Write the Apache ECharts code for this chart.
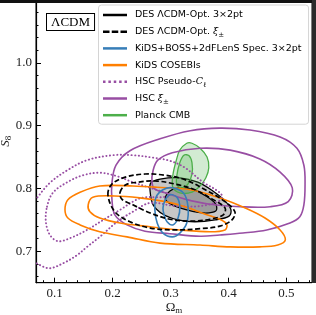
<!DOCTYPE html>
<html><head><meta charset="utf-8">
<script src="https://cdn.jsdelivr.net/npm/echarts@6/dist/echarts.min.js"></script>
<style>html,body{margin:0;padding:0;background:#fff}#c{width:316px;height:315px}</style>
</head><body><div id="c"></div>
<script>
// ---- tick values ----
const xMajorTicks = [0.1, 0.2, 0.3, 0.4, 0.5];
const xMinorTicks = [0.08, 0.12, 0.14, 0.16, 0.18, 0.22, 0.24, 0.26, 0.28, 0.32, 0.34, 0.36, 0.38, 0.42, 0.44, 0.46, 0.48, 0.52, 0.54];
const yMajorTicks = [0.7, 0.8, 0.9, 1.0];
const yMinorTicks = [0.66, 0.68, 0.72, 0.74, 0.76, 0.78, 0.82, 0.84, 0.86, 0.88, 0.92, 0.94, 0.96, 0.98, 1.02, 1.04, 1.06, 1.08];

// ---- legend names ----
const names = ['DES ΛCDM-Opt. 3×2pt', 'DES ΛCDM-Opt. ξ±', 'KiDS+BOSS+2dFLenS Spec. 3×2pt', 'KiDS COSEBIs', 'HSC Pseudo-Cℓ', 'HSC ξ±', 'Planck CMB'];

// ---- contours (Ωm, S8) ----
const hscClOuter = [[0.049,0.734],[0.054,0.766],[0.068,0.783],[0.092,0.809],[0.122,0.829],[0.156,0.845],[0.201,0.853],[0.235,0.853],[0.270,0.849],[0.299,0.844],[0.325,0.833],[0.356,0.810],[0.378,0.798],[0.389,0.788],[0.382,0.779],[0.351,0.772],[0.308,0.772],[0.265,0.777],[0.235,0.763],[0.208,0.747],[0.178,0.723],[0.156,0.707],[0.139,0.694],[0.115,0.681],[0.092,0.673],[0.075,0.678],[0.058,0.689],[0.049,0.710]];
const hscClInner = [[0.087,0.771],[0.097,0.793],[0.122,0.810],[0.149,0.821],[0.178,0.825],[0.206,0.820],[0.235,0.810],[0.265,0.801],[0.291,0.793],[0.299,0.788],[0.282,0.786],[0.256,0.786],[0.241,0.782],[0.213,0.766],[0.184,0.750],[0.156,0.734],[0.127,0.721],[0.106,0.716],[0.092,0.726],[0.085,0.747]];
const hscXiOuter = [[0.199,0.782],[0.199,0.809],[0.206,0.837],[0.230,0.860],[0.282,0.879],[0.334,0.892],[0.385,0.896],[0.437,0.893],[0.489,0.882],[0.518,0.864],[0.530,0.837],[0.532,0.806],[0.530,0.774],[0.523,0.755],[0.506,0.745],[0.466,0.734],[0.425,0.729],[0.385,0.726],[0.351,0.724],[0.299,0.728],[0.256,0.732],[0.225,0.742],[0.204,0.758]];
const hscXiInner = [[0.268,0.809],[0.270,0.829],[0.278,0.845],[0.303,0.857],[0.351,0.864],[0.403,0.861],[0.454,0.847],[0.489,0.826],[0.510,0.801],[0.503,0.779],[0.472,0.771],[0.420,0.771],[0.368,0.775],[0.325,0.783],[0.291,0.793],[0.273,0.799]];
const kidsCosebisOuter = [[0.118,0.766],[0.123,0.782],[0.144,0.794],[0.178,0.804],[0.235,0.804],[0.277,0.802],[0.334,0.798],[0.385,0.785],[0.429,0.769],[0.463,0.753],[0.489,0.734],[0.498,0.718],[0.485,0.710],[0.454,0.707],[0.403,0.707],[0.351,0.710],[0.282,0.713],[0.225,0.723],[0.178,0.731],[0.144,0.742],[0.123,0.753]];
const kidsCosebisInner = [[0.158,0.774],[0.166,0.786],[0.204,0.788],[0.247,0.785],[0.291,0.779],[0.325,0.771],[0.360,0.759],[0.385,0.751],[0.397,0.743],[0.394,0.734],[0.368,0.731],[0.316,0.734],[0.265,0.739],[0.213,0.745],[0.178,0.753],[0.161,0.763]];
const kidsBossOuter = [[0.273,0.766],[0.275,0.786],[0.287,0.798],[0.304,0.801],[0.322,0.793],[0.330,0.772],[0.328,0.745],[0.316,0.729],[0.303,0.723],[0.287,0.729],[0.277,0.745]];
const kidsBossInner = [[0.287,0.769],[0.291,0.782],[0.299,0.790],[0.311,0.786],[0.316,0.771],[0.313,0.753],[0.304,0.742],[0.294,0.747],[0.289,0.758]];
const desXiOuter = [[0.192,0.790],[0.199,0.807],[0.222,0.818],[0.256,0.823],[0.291,0.821],[0.325,0.814],[0.360,0.798],[0.394,0.779],[0.411,0.763],[0.406,0.750],[0.385,0.740],[0.351,0.736],[0.308,0.734],[0.265,0.737],[0.230,0.747],[0.204,0.763]];
const desXiInner = [[0.213,0.794],[0.223,0.806],[0.244,0.810],[0.273,0.812],[0.308,0.807],[0.342,0.798],[0.372,0.783],[0.394,0.769],[0.391,0.758],[0.368,0.751],[0.334,0.748],[0.299,0.751],[0.265,0.761],[0.235,0.774],[0.216,0.783]];
const des3x2Outer = [[0.265,0.794],[0.266,0.809],[0.282,0.815],[0.316,0.817],[0.347,0.810],[0.373,0.796],[0.392,0.782],[0.404,0.767],[0.401,0.756],[0.377,0.750],[0.342,0.747],[0.313,0.750],[0.287,0.759],[0.270,0.774]];
const des3x2Inner = [[0.291,0.783],[0.299,0.796],[0.313,0.801],[0.337,0.799],[0.361,0.788],[0.378,0.775],[0.378,0.764],[0.356,0.761],[0.328,0.766],[0.303,0.774]];
const planckOuter = [[0.328,0.872],[0.316,0.861],[0.310,0.845],[0.304,0.821],[0.304,0.802],[0.316,0.793],[0.337,0.794],[0.351,0.804],[0.361,0.817],[0.366,0.833],[0.363,0.850],[0.351,0.864],[0.337,0.872]];
const planckInner = [[0.323,0.853],[0.316,0.841],[0.311,0.821],[0.311,0.806],[0.320,0.801],[0.330,0.807],[0.337,0.823],[0.337,0.841],[0.332,0.852]];

const C = {black:'#000000', blue:'#377eb8', orange:'#ff7f00', purple:'#984ea3', green:'#4daf4a'};
const DASH = [5, 2.6], DOT = [0.2, 3.4];
const NOFILL = 'rgba(0,0,0,0)';

function contour(name, pts, o) {
  return {
    type: 'custom', name: name, coordinateSystem: 'cartesian2d', clip: true,
    data: pts, encode: {x: 0, y: 1}, z: o.z || 2, silent: true,
    itemStyle: {color: o.color},
    renderItem: function (params, api) {
      if (params.dataIndex !== 0) return;
      const p = pts.map(function (d) { return api.coord(d); });
      return {
        type: 'polygon',
        shape: {points: p, smooth: 0.35},
        style: {fill: o.fill || NOFILL, stroke: o.color, lineWidth: o.lw || 1.5,
                lineDash: o.dash || null, lineCap: o.cap || 'butt', lineJoin: 'round'}
      };
    }
  };
}

const series = [
  contour(names[0], des3x2Outer, {color: C.black, fill: 'rgba(0,0,0,0.22)', lw: 1.3, z: 1}),
  contour(names[0], des3x2Inner, {color: C.black, fill: 'rgba(0,0,0,0.22)', lw: 1.3, z: 1}),
  contour(names[6], planckOuter, {color: C.green, fill: 'rgba(77,175,74,0.25)', lw: 1.3, z: 1}),
  contour(names[6], planckInner, {color: C.green, fill: 'rgba(77,175,74,0.25)', lw: 1.3, z: 1}),
  contour(names[4], hscClOuter, {color: C.purple, lw: 1.9, dash: DOT, cap: 'round'}),
  contour(names[4], hscClInner, {color: C.purple, lw: 1.9, dash: DOT, cap: 'round'}),
  contour(names[5], hscXiOuter, {color: C.purple, lw: 1.6}),
  contour(names[5], hscXiInner, {color: C.purple, lw: 1.6}),
  contour(names[3], kidsCosebisOuter, {color: C.orange, lw: 1.6}),
  contour(names[3], kidsCosebisInner, {color: C.orange, lw: 1.6}),
  contour(names[2], kidsBossOuter, {color: C.blue, lw: 1.6}),
  contour(names[2], kidsBossInner, {color: C.blue, lw: 1.6}),
  contour(names[1], desXiOuter, {color: C.black, lw: 1.7, dash: DASH, z: 3}),
  contour(names[1], desXiInner, {color: C.black, lw: 1.7, dash: DASH, z: 3})
];

const SOLID = 'path://M0,0H24V2.5H0Z';
const DASHED = 'path://M0,0H6.5V2.5H0Z M8.75,0H15.25V2.5H8.75Z M17.5,0H24V2.5H17.5Z';
const DOTTED = 'path://M0,0H2.5V2.5H0Z M5.375,0H7.875V2.5H5.375Z M10.75,0H13.25V2.5H10.75Z M16.125,0H18.625V2.5H16.125Z M21.5,0H24V2.5H21.5Z';
const legendIcons = [SOLID, DASHED, SOLID, SOLID, DOTTED, SOLID, SOLID];
const legendColors = [C.black, C.black, C.blue, C.orange, C.purple, C.purple, C.green];
const legendLabels = {};
legendLabels[names[0]] = '{n|DES ΛCDM-Opt. 3×2pt}';
legendLabels[names[1]] = '{n|DES ΛCDM-Opt. }{it|ξ}{sb|±}';
legendLabels[names[2]] = '{n|KiDS+BOSS+2dFLenS Spec. 3×2pt}';
legendLabels[names[3]] = '{n|KiDS COSEBIs}';
legendLabels[names[4]] = '{n|HSC Pseudo-}{it|C}{sb|ℓ}';
legendLabels[names[5]] = '{n|HSC }{it|ξ}{sb|±}';
legendLabels[names[6]] = '{n|Planck CMB}';

const serif = '"Liberation Serif", "DejaVu Serif", serif';
const sans = '"DejaVu Sans", sans-serif';

const option = {
  animation: false,
  grid: {left: 36, right: 4, top: 0, bottom: 32.3, show: true, borderColor: '#000', borderWidth: 1, backgroundColor: 'transparent', containLabel: false, outerBoundsMode: 'none'},
  xAxis: [{
    type: 'value', min: 0.068, max: 0.544, position: 'bottom',
    axisLine: {lineStyle: {color: '#000', width: 1.2}},
    axisTick: {inside: true, length: 5, customValues: xMajorTicks, lineStyle: {color: '#000'}},
    axisLabel: {customValues: xMajorTicks, formatter: function (v) { return v.toFixed(1); }, fontFamily: serif, fontSize: 13, color: '#222', margin: 4},
    splitLine: {show: false},
    name: '{o|Ω}{s|m}', nameLocation: 'middle', nameGap: 17, nameMoveOverlap: false,
    nameTextStyle: {rich: {o: {fontFamily: serif, fontSize: 13, color: '#222'}, s: {fontFamily: serif, fontSize: 9, color: '#222', verticalAlign: 'bottom', padding: [6, 0, 0, 0]}}}
  }, {
    type: 'value', min: 0.068, max: 0.544, position: 'bottom',
    axisLine: {show: false},
    axisTick: {inside: true, length: 2.5, customValues: xMinorTicks, lineStyle: {color: '#000'}},
    axisLabel: {show: false}, splitLine: {show: false}
  }],
  yAxis: [{
    type: 'value', min: 0.65, max: 1.1, position: 'left',
    axisLine: {lineStyle: {color: '#000', width: 1.2}},
    axisTick: {inside: true, length: 5, customValues: yMajorTicks, lineStyle: {color: '#000'}},
    axisLabel: {customValues: yMajorTicks, formatter: function (v) { return v.toFixed(1); }, fontFamily: serif, fontSize: 13, color: '#222', margin: 4},
    splitLine: {show: false},
    name: '{i|S}{s|8}', nameLocation: 'middle', nameGap: 23, nameRotate: 90, nameMoveOverlap: false,
    nameTextStyle: {rich: {i: {fontFamily: serif, fontStyle: 'italic', fontSize: 13, color: '#222'}, s: {fontFamily: serif, fontSize: 9, color: '#222', verticalAlign: 'bottom', padding: [6, 0, 0, 0]}}}
  }, {
    type: 'value', min: 0.65, max: 1.1, position: 'left',
    axisLine: {show: false},
    axisTick: {inside: true, length: 2.5, customValues: yMinorTicks, lineStyle: {color: '#000'}},
    axisLabel: {show: false}, splitLine: {show: false}
  }],
  legend: {
    orient: 'vertical', left: 98.5, top: 5, padding: [3, 7, 2, 4.5], itemGap: 2.7,
    itemWidth: 24, itemHeight: 2.5, selectedMode: false,
    backgroundColor: 'rgba(255,255,255,0.85)', borderColor: '#d4d4d4', borderWidth: 1, borderRadius: 3,
    data: names.map(function (n, i) { return {name: n, icon: legendIcons[i], itemStyle: {color: legendColors[i]}}; }),
    formatter: function (n) { return legendLabels[n]; },
    textStyle: {fontFamily: sans, fontSize: 9.5, color: '#000', lineHeight: 14, padding: [0, 0, 0, 3],
      rich: {
        n: {fontFamily: sans, fontSize: 9.5, color: '#000', lineHeight: 14},
        it: {fontFamily: '"DejaVu Serif", serif', fontStyle: 'italic', fontSize: 9.5, color: '#000', lineHeight: 14},
        sb: {fontFamily: '"DejaVu Serif", serif', fontSize: 7, color: '#000', verticalAlign: 'bottom', lineHeight: 9}
      }}
  },
  graphic: [
    {type: 'rect', shape: {x: 0, y: 0, width: 316, height: 3}, style: {fill: '#111'}, z: 100},
    {type: 'rect', shape: {x: 312, y: 0, width: 4, height: 283}, style: {fill: '#2b2b2b'}, z: 100},
    {type: 'text', left: 46, top: 13, z: 100,
     style: {text: 'ΛCDM', font: '13px "Liberation Serif", serif', fill: '#000', padding: [2, 4, 1, 4], borderColor: '#000', borderWidth: 1, backgroundColor: '#fff'}}
  ],
  series: series
};
const chart = echarts.init(document.getElementById('c'), null, {renderer: 'canvas'});
chart.setOption(option);
</script>
</body></html>
